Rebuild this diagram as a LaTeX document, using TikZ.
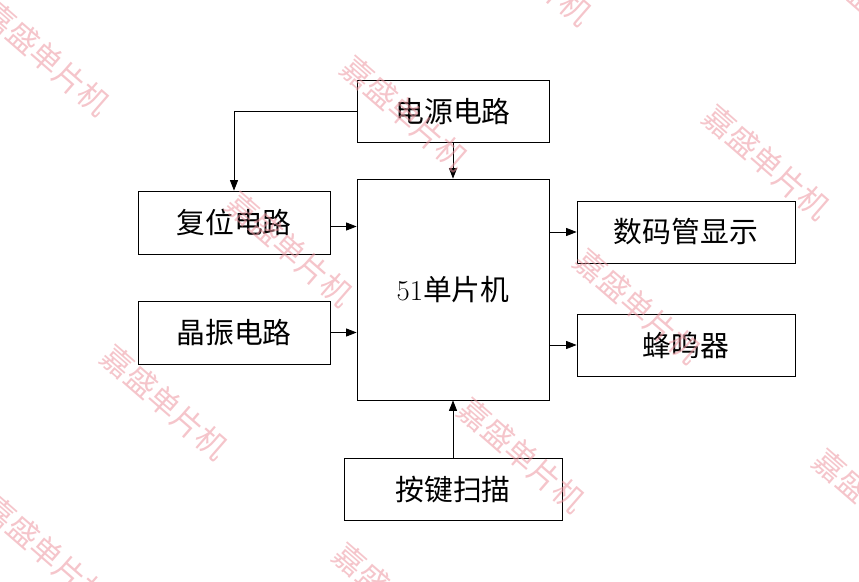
\documentclass[tikz,border=0pt]{standalone}
\usepackage{fontspec}
\newfontfamily\cjk{Noto Sans CJK SC}
\usetikzlibrary{positioning,arrows.meta,calc}
\definecolor{wmpink}{RGB}{236,150,160}

\begin{document}
\begin{tikzpicture}
\tikzstyle{blk}=[draw, rectangle, line width=0.6pt, inner sep=0pt, font=\cjk\fontsize{20.5}{24}\selectfont];
\tikzstyle{wmark}=[text=wmpink, opacity=0.55, rotate=-41, font=\cjk\fontsize{22}{26}\selectfont];
\useasboundingbox (0,0) rectangle (21.475,-14.55);
\begin{scope}[>={Triangle[length=2.6mm,width=2mm]}, line width=0.6pt]
  \node (mcu) at (11.325,-7.2375) [blk, minimum width=4.8cm, minimum height=5.525cm]{{\normalfont 51}单片机};
  \node (power) [above=0.9cm of mcu, blk, minimum width=4.8cm, minimum height=1.55cm]{电源电路};
  \node (keys) [below=1.45cm of mcu, blk, minimum width=5.45cm, minimum height=1.55cm]{按键扫描};
  \node (reset) at (5.85,-5.5625) [blk, minimum width=4.8cm, minimum height=1.575cm]{复位电路};
  \node (crystal) at (5.85,-8.3125) [blk, minimum width=4.8cm, minimum height=1.575cm]{晶振电路};
  \node (display) at (17.15,-5.8) [blk, minimum width=5.45cm, minimum height=1.55cm]{数码管显示};
  \node (buzzer) at (17.15,-8.625) [blk, minimum width=5.45cm, minimum height=1.55cm]{蜂鸣器};
  \coordinate (resetout) at ($(reset.east)+(0,-0.1)$);

  \draw[->] (power.west) -| (reset.north);
  \draw[->] (power) -- (mcu);
  \draw[->] (resetout) -- (resetout -| mcu.west);
  \draw[->] (crystal.east) -- (crystal.east -| mcu.west);
  \draw[->] (display.west -| mcu.east) -- (display.west);
  \draw[->] (buzzer.west -| mcu.east) -- (buzzer.west);
  \draw[->] (keys) -- (mcu);
\end{scope}

% watermark
\foreach \x/\y [count=\i] in {47/58, 405/113, 767/162, 290/249, 638/306, 165/402,
  522/455, 877/506, 47/552, 397/600, 529/-32, 889/20}
  \node[wmark] (wm\i) at ({\x/40},{-\y/40}) {嘉盛单片机};
\end{tikzpicture}
\end{document}
